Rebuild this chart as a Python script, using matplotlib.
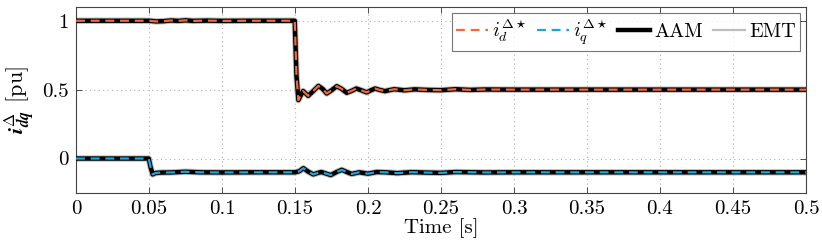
import matplotlib
matplotlib.use("Agg")
import matplotlib.pyplot as plt

plt.rcParams['font.family'] = ['cmr10', 'DejaVu Serif']
plt.rcParams['mathtext.fontset'] = 'cm'
plt.rcParams['axes.formatter.use_mathtext'] = True

# d-axis current (AAM / EMT response)
t_d = [0.0, 0.05, 0.055, 0.06, 0.065, 0.07, 0.075, 0.08, 0.09, 0.10, 0.12, 0.14, 0.1498,
       0.1510, 0.1523, 0.1540, 0.1555, 0.1590, 0.1625, 0.1660, 0.1690, 0.1717, 0.1750,
       0.1786, 0.1820, 0.1854, 0.1890, 0.1920, 0.1955, 0.1990, 0.2020, 0.2048, 0.2080,
       0.2116, 0.2150, 0.2180, 0.2250, 0.2320, 0.2400, 0.2500, 0.2600, 0.2700, 0.2800,
       0.3000, 0.3500, 0.4000, 0.4500, 0.5000]
i_d = [1.0, 1.0, 0.995, 0.997, 1.002, 0.999, 1.003, 0.999, 1.001, 0.999, 1.0, 1.0, 1.0,
       0.60, 0.424, 0.46, 0.49, 0.455, 0.49, 0.527, 0.505, 0.472, 0.495,
       0.525, 0.505, 0.477, 0.492, 0.508, 0.495, 0.480, 0.495, 0.508, 0.498,
       0.489, 0.497, 0.503, 0.495, 0.502, 0.498, 0.496, 0.503, 0.498, 0.501,
       0.500, 0.500, 0.500, 0.500, 0.500]

# q-axis current (AAM / EMT response)
t_q = [0.0, 0.0498, 0.0510, 0.0525, 0.0545, 0.058, 0.065, 0.075, 0.085, 0.10, 0.12, 0.14,
       0.150, 0.1530, 0.1557, 0.1590, 0.1625, 0.1655, 0.1680, 0.1710, 0.1745, 0.1785,
       0.1820, 0.1855, 0.1888, 0.1940, 0.2000, 0.2060, 0.2120, 0.2200, 0.2300, 0.2400,
       0.2500, 0.2600, 0.2800, 0.3000, 0.3500, 0.4000, 0.4500, 0.5000]
i_q = [0.0, 0.0, -0.06, -0.115, -0.105, -0.102, -0.101, -0.096, -0.100, -0.101, -0.100, -0.100,
       -0.100, -0.092, -0.070, -0.095, -0.115, -0.105, -0.098, -0.108, -0.120, -0.098,
       -0.082, -0.098, -0.112, -0.100, -0.110, -0.098, -0.100, -0.106, -0.099, -0.102,
       -0.104, -0.098, -0.101, -0.100, -0.100, -0.100, -0.100, -0.100]

x_ticks = [0, 0.05, 0.1, 0.15, 0.2, 0.25, 0.3, 0.35, 0.4, 0.45, 0.5]
x_labels = ['0', '0.05', '0.1', '0.15', '0.2', '0.25', '0.3', '0.35', '0.4', '0.45', '0.5']
y_ticks = [0, 0.5, 1]
y_labels = ['0', '0.5', '1']

c_d = '#f4683a'
c_q = '#1ba6dc'

fig = plt.figure(figsize=(8.22, 2.49), dpi=100)
ax = fig.add_axes([0.0925, 0.225, 0.888, 0.747])

ax.plot(t_d, i_d, color='#bdbdbd', lw=4.6, solid_joinstyle='round', zorder=2)
ax.plot(t_q, i_q, color='#bdbdbd', lw=4.6, solid_joinstyle='round', zorder=2)
ax.plot(t_d, i_d, color='black', lw=3.2, solid_joinstyle='round', zorder=3)
ax.plot(t_q, i_q, color='black', lw=3.2, solid_joinstyle='round', zorder=3)
ax.plot(t_d, i_d, color=c_d, lw=1.6, ls=(0, (4, 2.6)), zorder=4)
ax.plot(t_q, i_q, color=c_q, lw=1.6, ls=(0, (4, 2.6)), zorder=4)

h1, = ax.plot([], [], color=c_d, lw=1.6, ls=(0, (4, 2.6)))
h2, = ax.plot([], [], color=c_q, lw=1.6, ls=(0, (4, 2.6)))
h3, = ax.plot([], [], color='black', lw=3.2)
h4, = ax.plot([], [], color='#bdbdbd', lw=1.6)
leg = ax.legend([h1, h2, h3, h4],
                [r'$i_d^{\Delta\star}$', r'$i_q^{\Delta\star}$', 'AAM', 'EMT'],
                ncol=4, loc='upper right', bbox_to_anchor=(0.992, 0.965),
                fontsize=14.5, frameon=True, fancybox=False, edgecolor='#555555',
                handlelength=1.6, handletextpad=0.2, columnspacing=0.5,
                borderpad=0.2, borderaxespad=0.0)
leg.get_frame().set_linewidth(0.8)

ax.set_xlim(0, 0.5)
ax.set_ylim(-0.25, 1.1)
ax.set_xticks(x_ticks)
ax.set_xticklabels(x_labels)
ax.set_yticks(y_ticks)
ax.set_yticklabels(y_labels)
ax.tick_params(direction='in', top=True, right=True, labelsize=15, length=4,
               width=0.6, colors='#333333', labelcolor='black', pad=5)
ax.grid(True, ls=(0, (1, 3)), color='#b0b0b0', lw=0.8)
for s in ax.spines.values():
    s.set_linewidth(0.8)
    s.set_color('#444444')

ax.set_xlabel('Time [s]', fontsize=15, labelpad=0)
ax.set_ylabel(r'$\mathbfit{i}^{\mathbf{\Delta}}_{\mathbfit{dq}}$ [pu]', fontsize=16, labelpad=4)

fig.savefig('out.png', dpi=100)
